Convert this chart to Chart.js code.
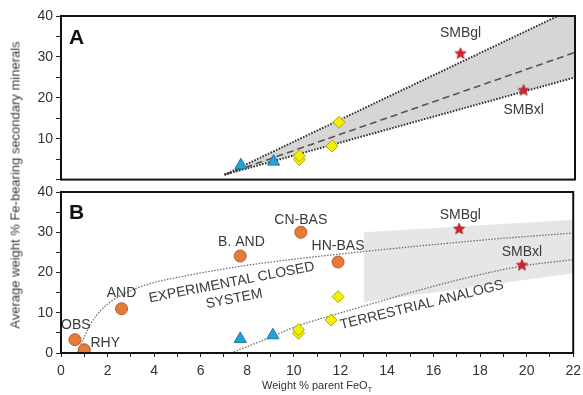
<!DOCTYPE html>
<html>
<head>
<meta charset="utf-8">
<script src="https://cdn.jsdelivr.net/npm/chart.js@4.4.1/dist/chart.umd.min.js"></script>
<style>
  body { margin: 0; background: #fff; width: 583px; height: 395px; position: relative; overflow: hidden;
         font-family: "Liberation Sans", Arial, sans-serif; color: #333; }
  .wrap { position: absolute; left: 0; }
  .ytitle { position: absolute; left: 15px; top: 185px; transform: translate(-50%, -50%) rotate(-90deg);
            white-space: nowrap; font-size: 13px; color: #3a3a3a; }
  .xtitle { position: absolute; left: 317px; top: 386px; transform: translate(-50%, -50%);
            white-space: nowrap; font-size: 11px; color: #333; }
  .xtitle sub { font-size: 7px; }
  .panel { position: absolute; font-weight: bold; font-size: 21px; color: #111; line-height: 1; }
</style>
</head>
<body>
<div class="wrap" style="top:0"><canvas id="chartA" width="583" height="191"></canvas></div>
<div class="wrap" style="top:176px"><canvas id="chartB" width="583" height="219"></canvas></div>
<div class="ytitle">Average weight % Fe-bearing secondary minerals</div>
<div class="xtitle">Weight % parent FeO<sub>T</sub></div>
<div class="panel" style="left:69px;top:26px">A</div>
<div class="panel" style="left:69px;top:201px">B</div>
<script>
// experimental closed system (orange circles)
const expNames = ["OBS", "RHY", "AND", "B. AND", "CN-BAS", "HN-BAS"];
const expFeO = [0.6, 1.0, 2.6, 7.7, 10.3, 11.9];
const expSec = [3.3, 0.8, 11.0, 24.1, 30.0, 22.6];

// terrestrial analogs
const triFeO = [7.7, 9.1];
const triSec = [3.5, 4.4];
const diaFeO = [10.2, 10.2, 11.6, 11.9];
const diaSec = [4.9, 5.8, 8.2, 14.0];

// Mars (stars)
const marsNames = ["SMBgl", "SMBxl"];
const marsFeO = [17.1, 19.8];
const marsSec = [30.8, 21.8];

// panel A trend lines
const trendFeO = [7.0, 22.0];
const trendUpper = [1.2, 42.0];
const trendMid = [1.2, 31.1];
const trendLower = [1.2, 25.0];

// panel B fitted curves
const closedFeO = [0.7, 1.0, 1.3, 1.7, 2.2, 3.0, 4.0, 5.2, 6.5, 8.0, 10.0, 12.0, 14.0, 16.5, 19.0, 22.0];
const closedSec = [0, 4.0, 7.5, 10.5, 13.0, 15.5, 17.5, 19.0, 20.4, 21.8, 23.3, 24.6, 25.8, 27.2, 28.5, 29.8];
const terrFeO = [7.3, 8.0, 9.0, 10.1, 11.8, 13.5, 15.5, 17.5, 19.8, 22.0];
const terrSec = [0, 1.6, 3.9, 6.6, 9.6, 12.5, 15.8, 18.8, 21.6, 23.2];

// panel B shaded band
const bandFeO = [13.0, 22.0];
const bandTop = [30.0, 33.1];
const bandBottom = [12.6, 19.8];

const xy = (xs, ys) => xs.map((x, i) => ({ x: x, y: ys[i] }));
const FONT = '"Liberation Sans", Arial, sans-serif';

function makeStar(r, fill, edge) {
  const c = document.createElement("canvas");
  const s = Math.ceil(r * 2 + 2);
  c.width = c.height = s;
  const g = c.getContext("2d");
  g.beginPath();
  for (let i = 0; i < 10; i++) {
    const rad = i % 2 ? r * 0.45 : r;
    const a = -Math.PI / 2 + i * Math.PI / 5;
    g.lineTo(s / 2 + rad * Math.cos(a), s / 2 + rad * Math.sin(a));
  }
  g.closePath();
  g.fillStyle = fill;
  g.fill();
  g.strokeStyle = edge;
  g.lineWidth = 0.8;
  g.stroke();
  return c;
}
const star = makeStar(5.8, "#d6232b", "#9e1a1f");

// text labels placed in data coordinates + frame around the plot
function annotate(labels) {
  return {
    id: "annotate",
    afterDatasetsDraw(chart) {
      const ctx = chart.ctx;
      const a = chart.chartArea;
      const sx = chart.scales.x, sy = chart.scales.y;
      ctx.save();
      ctx.font = "14px " + FONT;
      ctx.fillStyle = "#3a3a3a";
      ctx.textAlign = "center";
      ctx.textBaseline = "middle";
      labels.forEach(l => {
        ctx.save();
        ctx.translate(sx.getPixelForValue(l.x), sy.getPixelForValue(l.y));
        ctx.rotate((l.angle || 0) * Math.PI / 180);
        ctx.fillText(l.text, 0, 0);
        ctx.restore();
      });
      ctx.lineWidth = 2;
      ctx.strokeStyle = "#111";
      ctx.strokeRect(a.left, a.top, a.right - a.left, a.bottom - a.top);
      ctx.restore();
    }
  };
}

const triangles = {
  data: xy(triFeO, triSec), pointStyle: "triangle", pointRadius: 7,
  backgroundColor: "#27a0d9", borderColor: "#1b78a8", borderWidth: 1, order: 0
};
const diamonds = {
  data: xy(diaFeO, diaSec), pointStyle: "rectRot", pointRadius: 6,
  backgroundColor: "#f4ef00", borderColor: "#b3a800", borderWidth: 1, order: 0
};
const stars = {
  data: xy(marsFeO, marsSec), pointStyle: star, pointRadius: 6, order: 0
};

function yScale(showZero, width) {
  return {
    min: 0, max: 40,
    ticks: {
      stepSize: 5, padding: 3, color: "#333", font: { family: FONT, size: 14 },
      callback: v => (v % 10 === 0 && (showZero || v > 0)) ? v : ""
    },
    grid: { drawOnChartArea: false, tickLength: 5, color: "#222" },
    border: { display: false },
    afterFit: s => { s.width = width; }
  };
}

const base = {
  responsive: false,
  animation: false,
  plugins: { legend: { display: false }, tooltip: { enabled: false } }
};

new Chart(document.getElementById("chartA"), {
  type: "scatter",
  data: {
    datasets: [
      triangles, diamonds, stars,
      { data: xy(trendFeO, trendUpper), showLine: true, pointRadius: 0, borderColor: "#2b2b2b",
        borderWidth: 2, borderDash: [1.5, 1.5], order: 1 },
      { data: xy(trendFeO, trendMid), showLine: true, pointRadius: 0, borderColor: "#555",
        borderWidth: 1.6, borderDash: [7, 4], order: 1 },
      { data: xy(trendFeO, trendLower), showLine: true, pointRadius: 0, borderColor: "#2b2b2b",
        borderWidth: 2, borderDash: [1.5, 1.5], fill: "-2", backgroundColor: "#d6d6d6", order: 2 }
    ]
  },
  options: {
    ...base,
    layout: { padding: { top: 16, right: 8, left: 0, bottom: 0 } },
    scales: {
      x: { min: 0, max: 22, ticks: { display: false }, grid: { display: false }, border: { display: false },
           afterFit: s => { s.height = 7; } },
      y: yScale(false, 61)
    }
  },
  plugins: [annotate([
    { text: "SMBgl", x: 17.1, y: 35.8 },
    { text: "SMBxl", x: 19.8, y: 17.0 }
  ])]
});

new Chart(document.getElementById("chartB"), {
  type: "scatter",
  data: {
    datasets: [
      { data: xy(expFeO, expSec), pointStyle: "circle", pointRadius: 6,
        backgroundColor: "#e57a3a", borderColor: "#b9592a", borderWidth: 1, order: 0 },
      { ...triangles }, { ...diamonds }, { ...stars },
      { data: xy(closedFeO, closedSec), showLine: true, pointRadius: 0, borderColor: "#6e6e6e",
        borderWidth: 1.3, borderDash: [1.5, 1.5], cubicInterpolationMode: "monotone", order: 1 },
      { data: xy(terrFeO, terrSec), showLine: true, pointRadius: 0, borderColor: "#6e6e6e",
        borderWidth: 1.3, borderDash: [1.5, 1.5], cubicInterpolationMode: "monotone", order: 1 },
      { data: xy(bandFeO, bandTop), showLine: true, pointRadius: 0, borderWidth: 0,
        fill: "+1", backgroundColor: "#e6e6e6", order: 2 },
      { data: xy(bandFeO, bandBottom), showLine: true, pointRadius: 0, borderWidth: 0, order: 2 }
    ]
  },
  options: {
    ...base,
    layout: { padding: { top: 16, right: 8, left: 0, bottom: 0 } },
    scales: {
      x: {
        min: 0, max: 22,
        ticks: { stepSize: 1, autoSkip: false, maxRotation: 0, padding: 2, color: "#333",
                 font: { family: FONT, size: 14, lineHeight: 1.7 }, callback: v => v % 2 === 0 ? v : "" },
        grid: { drawOnChartArea: false, tickLength: 4, color: "#222" },
        border: { display: false },
        afterFit: s => { s.height = 42; }
      },
      y: yScale(true, 61)
    }
  },
  plugins: [annotate([
    { text: "OBS", x: 0.64, y: 6.9 },
    { text: "RHY", x: 1.9, y: 2.5 },
    { text: "AND", x: 2.6, y: 14.9 },
    { text: "B. AND", x: 7.75, y: 27.5 },
    { text: "CN-BAS", x: 10.3, y: 33.0 },
    { text: "HN-BAS", x: 11.9, y: 26.5 },
    { text: "SMBgl", x: 17.15, y: 34.2 },
    { text: "SMBxl", x: 19.8, y: 25.0 },
    { text: "EXPERIMENTAL CLOSED", x: 7.33, y: 17.5, angle: -11 },
    { text: "SYSTEM", x: 7.44, y: 13.4, angle: -11 },
    { text: "TERRESTRIAL ANALOGS", x: 15.5, y: 11.9, angle: -14 }
  ])]
});
</script>
</body>
</html>
